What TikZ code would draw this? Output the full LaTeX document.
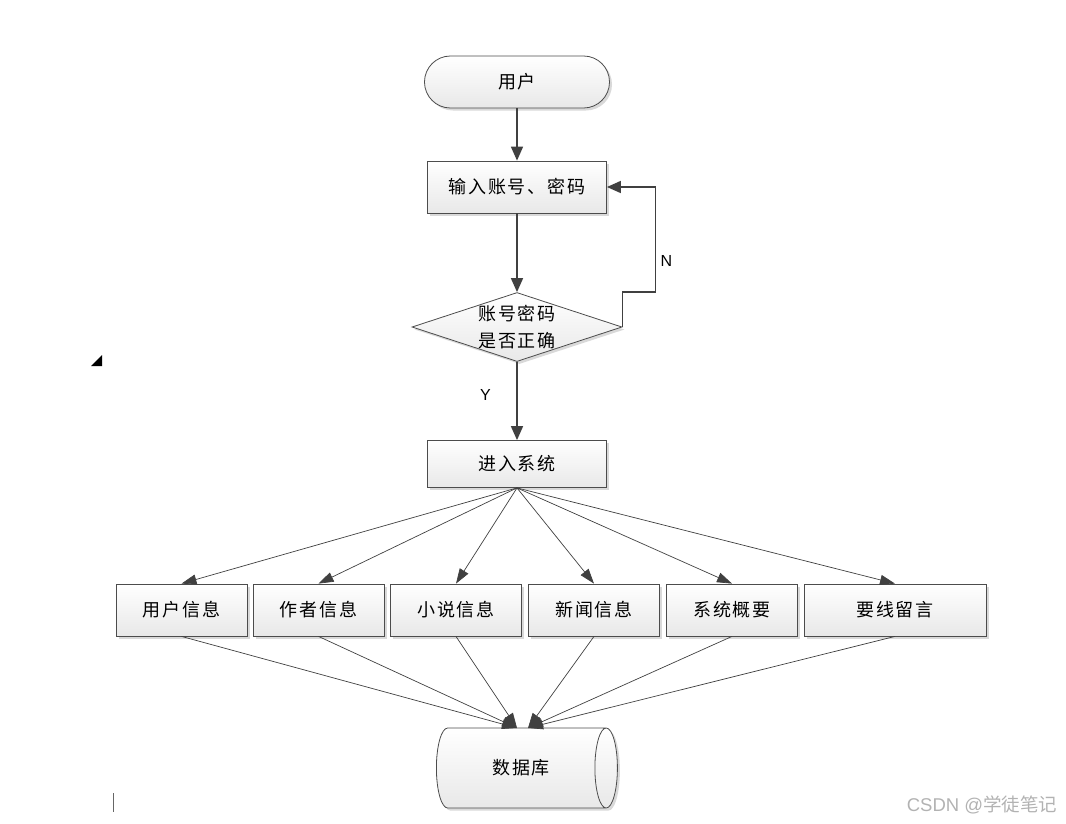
\documentclass[tikz,border=0pt]{standalone}
\usepackage{fontspec}
\setmainfont{Liberation Sans}
\newfontfamily\cjk[LetterSpace=10]{Noto Sans CJK SC}
\newfontfamily\cjkplain{Noto Sans CJK SC}
\usetikzlibrary{shapes.geometric,shadows,arrows.meta}

\tikzset{
 base/.style={draw=black!70, thick, top color=white, bottom color=black!9,
   drop shadow={shadow xshift=2.5pt, shadow yshift=-2.5pt, fill=black!25, opacity=0.6},
   inner sep=0pt, font=\cjk\fontsize{18}{27}\selectfont},
 box/.style={base, rectangle, minimum width=179pt, minimum height=52pt},
 info/.style={base, rectangle, minimum width=131pt, minimum height=52pt},
 flow/.style={draw=black!75, line width=1.6pt, -{Triangle[length=14pt,width=12pt]}},
 fan/.style={draw=black!75, line width=0.7pt, -{Triangle[length=15pt,width=10pt]}},
 yn/.style={font=\fontsize{16}{18}\selectfont}
}

\begin{document}
\begin{tikzpicture}[x=1pt,y=-1pt]
 \useasboundingbox (0,0) rectangle (1066,823);
 % main column
 \node[base, rectangle, minimum width=185pt, minimum height=52pt, rounded corners=25.9pt] (user) at (517,82) {用户};
 \node[box] (login) at (517,187) {输入账号、密码};
 \node[base, diamond, aspect=3, inner sep=-3pt, minimum width=210pt, minimum height=69pt, align=center] (check) at (517,327) {账号密码\\是否正确};
 \node[box, minimum height=47pt] (enter) at (517,464) {进入系统};
 % modules
 \node[info] (m1) at (181.5,610) {用户信息};
 \node[info] (m2) at (318.5,610) {作者信息};
 \node[info] (m3) at (456,610) {小说信息};
 \node[info] (m4) at (594,610) {新闻信息};
 \node[info] (m5) at (732,610) {系统概要};
 \node[info, minimum width=182pt] (m6) at (895,610) {要线留言};
 % database
 \node[base, cylinder, shape aspect=1.35, minimum width=80pt, minimum height=181pt, anchor=west] (db) at (436,768) {数据库};
 \coordinate (dbl) at (517,728);
 \coordinate (dbr) at (528,728);

 \draw[flow] (user) -- (login);
 \draw[flow] (login) -- (check);
 \draw[flow] (check) -- (enter) node[pos=0.42, left=22pt, yn] {Y};
 \draw[flow] (check.east) -- ++(0,-35) -- ++(33,0) |- (login.east)
   node[pos=0.15, right=1pt, yn] {N};
 \foreach \m in {m1,m2,m3,m4,m5,m6}
   \draw[fan] (enter.south) -- (\m.north);
 \foreach \m in {m1,m2,m3}
   \draw[fan] (\m.south) -- (dbl);
 \foreach \m in {m4,m5,m6}
   \draw[fan] (\m.south) -- (dbr);

 % stray marks
 \fill (91,366) -- (102,366) -- (102,355) -- cycle;
 \draw[black!60] (113,793) -- (113,812);
 \node[text=black!30, font=\fontsize{18.5}{20}\selectfont] (mark) at (982,805) {CSDN @{\cjkplain 学徒笔记}};
\end{tikzpicture}
\end{document}
